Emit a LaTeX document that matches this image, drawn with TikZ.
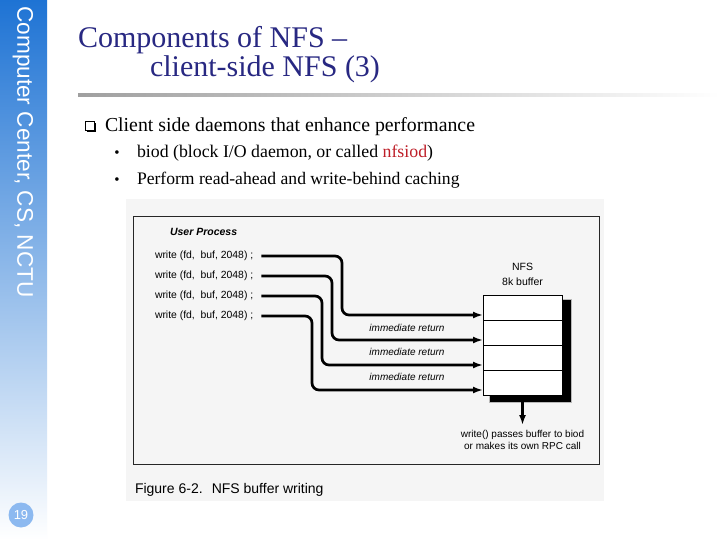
\documentclass[tikz,border=0pt]{standalone}
\usepackage{fontspec}
\setmainfont{Liberation Serif}
\setsansfont{Liberation Sans}
\usetikzlibrary{positioning,arrows.meta,shadows}
\definecolor{titleblue}{RGB}{40,40,130}
\definecolor{sideblue}{RGB}{30,115,212}
\definecolor{sidemid}{RGB}{150,182,232}
\definecolor{pageblue}{RGB}{140,185,240}
\definecolor{nfsred}{RGB}{190,30,40}
\tikzset{
  wire/.style = {line width=2.7pt, rounded corners=7pt, ->},
  cell/.style = {draw, line width=0.8pt, fill=white, minimum width=79pt, minimum height=25pt},
  call/.style = {anchor=west, font=\sffamily\fontsize{10.4}{12}\selectfont},
  ret/.style = {font=\sffamily\itshape\fontsize{10}{12}\selectfont},
  label/.style = {align=center, font=\sffamily\fontsize{10}{12}\selectfont}
}

\begin{document}
\begin{tikzpicture}[x=1pt, y=-1pt, >={Latex[length=10pt,width=7pt]}, node distance=0pt,
  every node/.style={inner sep=0pt, outer sep=0pt}]
  \useasboundingbox (0,0) rectangle (720,540);
  \fill[white] (0,0) rectangle (720,540);
  % side bar
  \shade[top color=sideblue, middle color=sidemid, bottom color=white] (0,0) rectangle (47,540);
  \node[rotate=-90, text=white, font=\sffamily\fontsize{22.6}{23}\selectfont] (side) at (23,152) {Computer Center, CS, NCTU};
  \fill[pageblue] (21,515) circle (12.5);
  \node[text=white, font=\sffamily\fontsize{13}{13}\selectfont] (page) at (21,515) {19};
  % title
  \node[anchor=base west, text=titleblue, font=\fontsize{30}{36}\selectfont] (title1) at (78,48) {Components of NFS –};
  \node[anchor=base west, text=titleblue, font=\fontsize{30}{36}\selectfont] (title2) at (150,77) {client-side NFS (3)};
  \shade[left color=gray!75, right color=white] (78,94) rectangle (720,97);
  % bullets
  \node[draw, fill=white, line width=0.7pt, minimum size=9.5pt,
    drop shadow={shadow xshift=1.3pt, shadow yshift=-1.3pt, fill=black, opacity=1}] (qbox) at (90,126) {};
  \node[anchor=base west, font=\fontsize{19.8}{22}\selectfont] (main) at (105,132) {Client side daemons that enhance performance};
  \node[anchor=base, font=\fontsize{15}{16}\selectfont] (dot1) at (117,158) {•};
  \node[anchor=base west, font=\fontsize{17.8}{20}\selectfont] (sub1) at (137,158) {biod (block I/O daemon, or called \textcolor{nfsred}{nfsiod})};
  \node[anchor=base, font=\fontsize{15}{16}\selectfont] (dot2) at (117,185) {•};
  \node[anchor=base west, font=\fontsize{17.6}{20}\selectfont] (sub2) at (137,185) {Perform read-ahead and write-behind caching};
  % figure
  \fill[black!4] (126,199) rectangle (604,501);
  \draw[line width=1pt, black!85] (133,217) rectangle (599,464);
  \node[anchor=base west, font=\sffamily\bfseries\itshape\fontsize{10.5}{12}\selectfont] (user) at (170,236) {User Process};
  \foreach \i/\y in {1/256,2/276,3/296,4/316}
    \node[call] (w\i) at (155,\y) {write (fd,~ buf, 2048) ;};
  \node[cell] (c1) at (522.5,307.5) {};
  \node[cell, below=of c1] (c2) {};
  \node[cell, below=of c2] (c3) {};
  \node[cell, below=of c3] (c4) {};
  \fill[gray!55] ([shift={(6,4)}]c1.north west) rectangle ([shift={(10,8)}]c4.south east);
  \fill[black] ([shift={(7,5)}]c1.north west) rectangle ([shift={(9,7)}]c4.south east);
  \node[cell] at (c1) {};
  \node[cell] at (c2) {};
  \node[cell] at (c3) {};
  \node[cell] at (c4) {};
  \node[label, font=\sffamily\fontsize{10.5}{15}\selectfont, above=9pt of c1] (nfs) {NFS\\8k buffer};
  \foreach \i in {1,...,4}
    \coordinate (in\i) at ([yshift=5pt]c\i.south west);
  \foreach \i/\x in {1/342,2/332,3/322,4/312}
    \draw[wire] ([xshift=8pt]w\i.east) -| (\x,0 |- in\i) -- (in\i);
  \foreach \i/\y in {1/328,2/352,3/377}
    \node[ret] (r\i) at (407,\y) {immediate return};
  \node[label, below=35pt of c4] (pass) {write() passes buffer to biod\\or makes its own RPC call};
  \draw[->, line width=2.7pt, shorten >=5pt] (c4.south) -- (pass.north);
  \node[anchor=base west, font=\sffamily\fontsize{14}{16}\selectfont] (fig) at (135,493) {Figure 6-2.~ NFS buffer writing};
\end{tikzpicture}
\end{document}
